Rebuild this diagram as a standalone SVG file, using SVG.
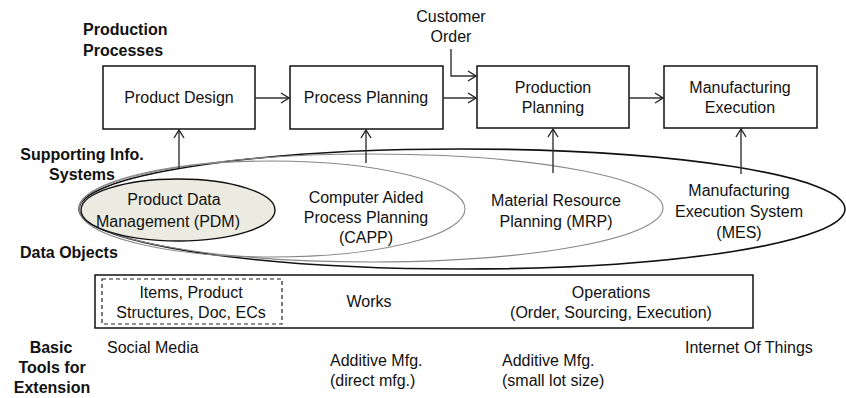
<svg xmlns="http://www.w3.org/2000/svg" width="846" height="398" viewBox="0 0 846 398">
  <defs>
    <marker id="arrow" viewBox="-10 -7 12 14" markerWidth="12" markerHeight="14" refX="0" refY="0" orient="auto" markerUnits="userSpaceOnUse">
      <path d="M-8,-5 L0,0 L-8,5" fill="none" stroke="#222" stroke-width="1.4"/>
    </marker>
    <style>
      text { font-family: "Liberation Sans", Arial, sans-serif; font-size: 16px; fill: #111; }
      .b { font-weight: bold; }
      .m { text-anchor: middle; }
      .box { fill: #fff; stroke: #111; stroke-width: 1.5; }
      .conn { fill: none; stroke: #333; stroke-width: 1.4; marker-end: url(#arrow); }
      .ring { fill: none; stroke: #888; stroke-width: 1.1; }
    </style>
  </defs>
  <rect width="846" height="398" fill="#fff"/>

  <!-- row labels -->
  <g id="labels">
    <text class="b" x="83" y="35">Production</text>
    <text class="b" x="83" y="56">Processes</text>
    <text class="b m" x="82" y="160">Supporting Info.</text>
    <text class="b m" x="82" y="180">Systems</text>
    <text class="b" x="20" y="258">Data Objects</text>
    <text class="b m" x="51" y="353">Basic</text>
    <text class="b m" x="52" y="373">Tools for</text>
    <text class="b m" x="52" y="393">Extension</text>
  </g>

  <!-- information systems, nested -->
  <g id="mes">
    <ellipse cx="462" cy="209" rx="383" ry="60" fill="#fff" stroke="#111" stroke-width="1.6"/>
    <text class="m" x="739" y="196">Manufacturing</text>
    <text class="m" x="739" y="217">Execution System</text>
    <text class="m" x="739" y="238">(MES)</text>
  </g>
  <g id="mrp">
    <ellipse class="ring" cx="371" cy="208" rx="292" ry="54"/>
    <text class="m" x="556" y="206">Material Resource</text>
    <text class="m" x="556" y="227">Planning (MRP)</text>
  </g>
  <g id="capp">
    <ellipse class="ring" cx="272" cy="209" rx="193" ry="48"/>
    <text class="m" x="366" y="203">Computer Aided</text>
    <text class="m" x="366" y="223">Process Planning</text>
    <text class="m" x="366" y="243">(CAPP)</text>
  </g>
  <g id="pdm">
    <ellipse cx="178" cy="210" rx="97" ry="31" fill="#ecebe1" stroke="#111" stroke-width="1.4"/>
    <text class="m" x="174" y="205">Product Data</text>
    <text class="m" x="168" y="227">Management (PDM)</text>
  </g>

  <!-- production processes -->
  <g id="product-design">
    <rect class="box" x="103" y="66" width="152" height="63"/>
    <text class="m" x="179" y="103">Product Design</text>
  </g>
  <g id="process-planning">
    <rect class="box" x="290" y="66" width="153" height="63"/>
    <text class="m" x="366" y="103">Process Planning</text>
  </g>
  <g id="production-planning">
    <rect class="box" x="477" y="66" width="152" height="62"/>
    <text class="m" x="553" y="93">Production</text>
    <text class="m" x="553" y="113">Planning</text>
  </g>
  <g id="manufacturing-execution">
    <rect class="box" x="664" y="66" width="153" height="62"/>
    <text class="m" x="740" y="93">Manufacturing</text>
    <text class="m" x="740" y="113">Execution</text>
  </g>
  <g id="customer-order">
    <text class="m" x="451" y="22">Customer</text>
    <text class="m" x="451" y="42">Order</text>
  </g>

  <!-- data objects -->
  <g id="data-objects">
    <rect x="95" y="275" width="658" height="53" fill="#fff" stroke="#111" stroke-width="1.5"/>
    <rect x="102" y="279" width="180" height="45" fill="none" stroke="#222" stroke-width="1.2" stroke-dasharray="4 3"/>
    <text class="m" x="191" y="298">Items, Product</text>
    <text class="m" x="191" y="318">Structures, Doc, ECs</text>
    <text class="m" x="369" y="307">Works</text>
    <text class="m" x="611" y="298">Operations</text>
    <text class="m" x="611" y="318">(Order, Sourcing, Execution)</text>
  </g>

  <!-- extension tools -->
  <g id="tools">
    <text x="107" y="353">Social Media</text>
    <text x="330" y="366">Additive Mfg.</text>
    <text x="330" y="386">(direct mfg.)</text>
    <text x="502" y="366">Additive Mfg.</text>
    <text x="502" y="386">(small lot size)</text>
    <text x="685" y="353">Internet Of Things</text>
  </g>

  <!-- connectors -->
  <g id="connectors">
    <path class="conn" d="M255,98 H289"/>
    <path class="conn" d="M443,98 H476"/>
    <path class="conn" d="M629,98 H663"/>
    <path class="conn" d="M451,49 V76 H476"/>
    <path class="conn" d="M179,168 V130"/>
    <path class="conn" d="M366,163 V130"/>
    <path class="conn" d="M553,173 V129"/>
    <path class="conn" d="M741,174 V129"/>
  </g>
</svg>
